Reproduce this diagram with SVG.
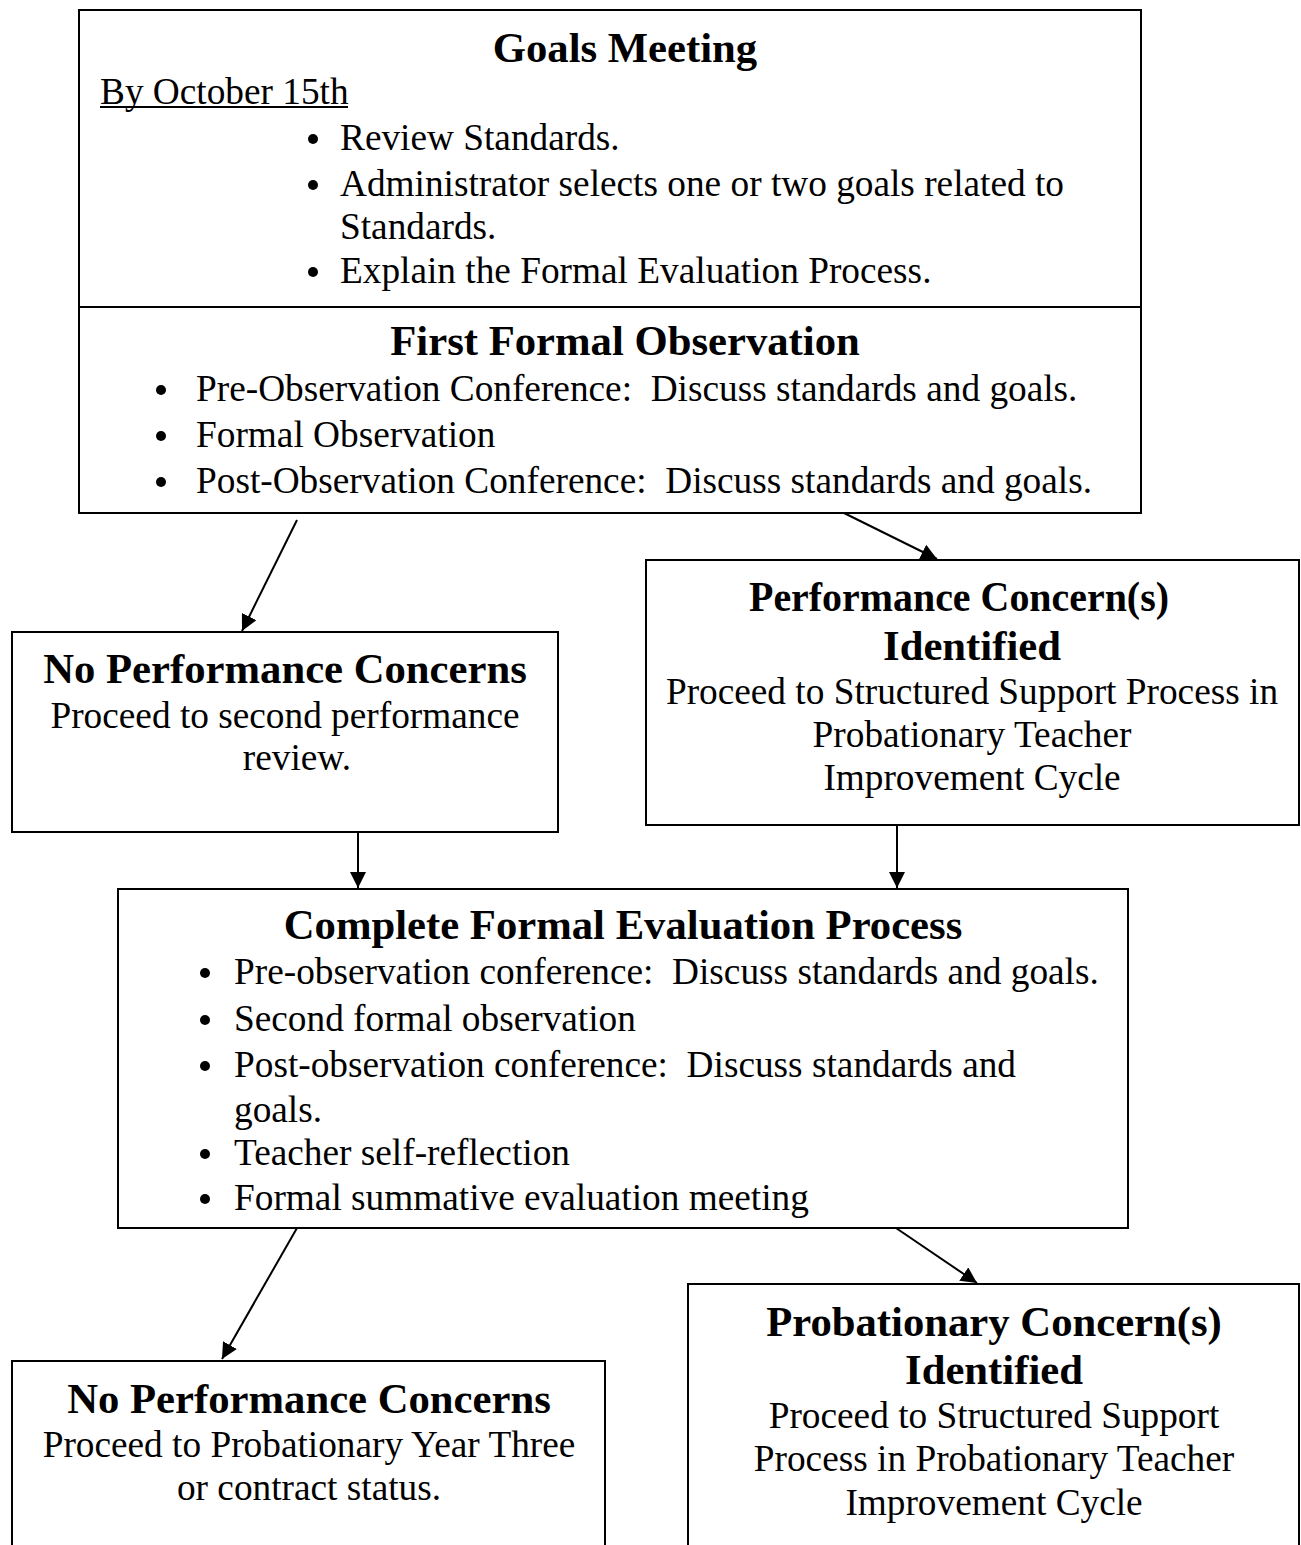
<svg xmlns="http://www.w3.org/2000/svg" width="1301" height="1545" viewBox="0 0 1301 1545">
<style>
.box{fill:#fff;stroke:#000;stroke-width:2}
.t{font-family:"Liberation Serif","Times New Roman",serif;font-size:42.7px;font-weight:bold;text-anchor:middle;fill:#000}
.b{font-family:"Liberation Serif","Times New Roman",serif;font-size:37.3px;fill:#000;white-space:pre}
.c{text-anchor:middle}
.dot{fill:#000}
.con{stroke:#000;stroke-width:2;fill:none}
</style>
<defs>
<marker id="ah" viewBox="0 0 10 10" refX="10" refY="5" markerWidth="16" markerHeight="16" markerUnits="userSpaceOnUse" orient="auto">
<path d="M0,0 L10,5 L0,10 z" fill="#000"/>
</marker>
</defs>
<g id="connectors">
<line class="con" x1="297" y1="520" x2="242" y2="631" marker-end="url(#ah)"/>
<line class="con" x1="844" y1="513" x2="937" y2="559" marker-end="url(#ah)"/>
<line class="con" x1="358" y1="833" x2="358" y2="888" marker-end="url(#ah)"/>
<line class="con" x1="897" y1="826" x2="897" y2="888" marker-end="url(#ah)"/>
<line class="con" x1="297" y1="1228" x2="222" y2="1359" marker-end="url(#ah)"/>
<line class="con" x1="896" y1="1228" x2="977" y2="1283" marker-end="url(#ah)"/>
</g>
<g id="goals">
<rect class="box" x="79" y="10" width="1062" height="297"/>
<text class="t" x="625" y="62">Goals Meeting</text>
<text class="b" x="100" y="104">By October 15th</text>
<line x1="100" y1="107" x2="348" y2="107" stroke="#000" stroke-width="2"/>
<circle class="dot" cx="313" cy="139" r="5"/>
<text class="b" x="340" y="150">Review Standards.</text>
<circle class="dot" cx="313" cy="185" r="5"/>
<text class="b" x="340" y="196">Administrator selects one or two goals related to</text>
<text class="b" x="340" y="239">Standards.</text>
<circle class="dot" cx="313" cy="272" r="5"/>
<text class="b" x="340" y="283">Explain the Formal Evaluation Process.</text>
</g>
<g id="first-observation">
<rect class="box" x="79" y="307" width="1062" height="206"/>
<text class="t" x="625" y="355">First Formal Observation</text>
<circle class="dot" cx="161" cy="390" r="5"/>
<text class="b" x="196" y="401">Pre-Observation Conference:  Discuss standards and goals.</text>
<circle class="dot" cx="161" cy="436" r="5"/>
<text class="b" x="196" y="447">Formal Observation</text>
<circle class="dot" cx="161" cy="482" r="5"/>
<text class="b" x="196" y="493">Post-Observation Conference:  Discuss standards and goals.</text>
</g>
<g id="no-concerns-1">
<rect class="box" x="12" y="632" width="546" height="200"/>
<text class="t" x="285" y="683">No Performance Concerns</text>
<text class="b c" x="285" y="728">Proceed to second performance</text>
<text class="b c" x="297" y="770">review.</text>
</g>
<g id="performance-concerns">
<rect class="box" x="646" y="560" width="653" height="265"/>
<text class="t" x="959" y="611" textLength="420" lengthAdjust="spacingAndGlyphs">Performance Concern(s)</text>
<text class="t" x="972" y="660">Identified</text>
<text class="b c" x="972" y="704">Proceed to Structured Support Process in</text>
<text class="b c" x="972" y="747">Probationary Teacher</text>
<text class="b c" x="972" y="790">Improvement Cycle</text>
</g>
<g id="complete-evaluation">
<rect class="box" x="118" y="889" width="1010" height="339"/>
<text class="t" x="623" y="939">Complete Formal Evaluation Process</text>
<circle class="dot" cx="205" cy="973" r="5"/>
<text class="b" x="234" y="984">Pre-observation conference:  Discuss standards and goals.</text>
<circle class="dot" cx="205" cy="1020" r="5"/>
<text class="b" x="234" y="1031">Second formal observation</text>
<circle class="dot" cx="205" cy="1066" r="5"/>
<text class="b" x="234" y="1077">Post-observation conference:  Discuss standards and</text>
<text class="b" x="234" y="1122">goals.</text>
<circle class="dot" cx="205" cy="1154" r="5"/>
<text class="b" x="234" y="1165">Teacher self-reflection</text>
<circle class="dot" cx="205" cy="1199" r="5"/>
<text class="b" x="234" y="1210">Formal summative evaluation meeting</text>
</g>
<g id="no-concerns-2">
<path class="box" d="M12,1546 L12,1361 L605,1361 L605,1546"/>
<text class="t" x="309" y="1413">No Performance Concerns</text>
<text class="b c" x="309" y="1457">Proceed to Probationary Year Three</text>
<text class="b c" x="309" y="1500">or contract status.</text>
</g>
<g id="probationary-concerns">
<path class="box" d="M688,1546 L688,1284 L1299,1284 L1299,1546"/>
<text class="t" x="994" y="1336">Probationary Concern(s)</text>
<text class="t" x="994" y="1384">Identified</text>
<text class="b c" x="994" y="1428">Proceed to Structured Support</text>
<text class="b c" x="994" y="1471">Process in Probationary Teacher</text>
<text class="b c" x="994" y="1515">Improvement Cycle</text>
</g>
</svg>
